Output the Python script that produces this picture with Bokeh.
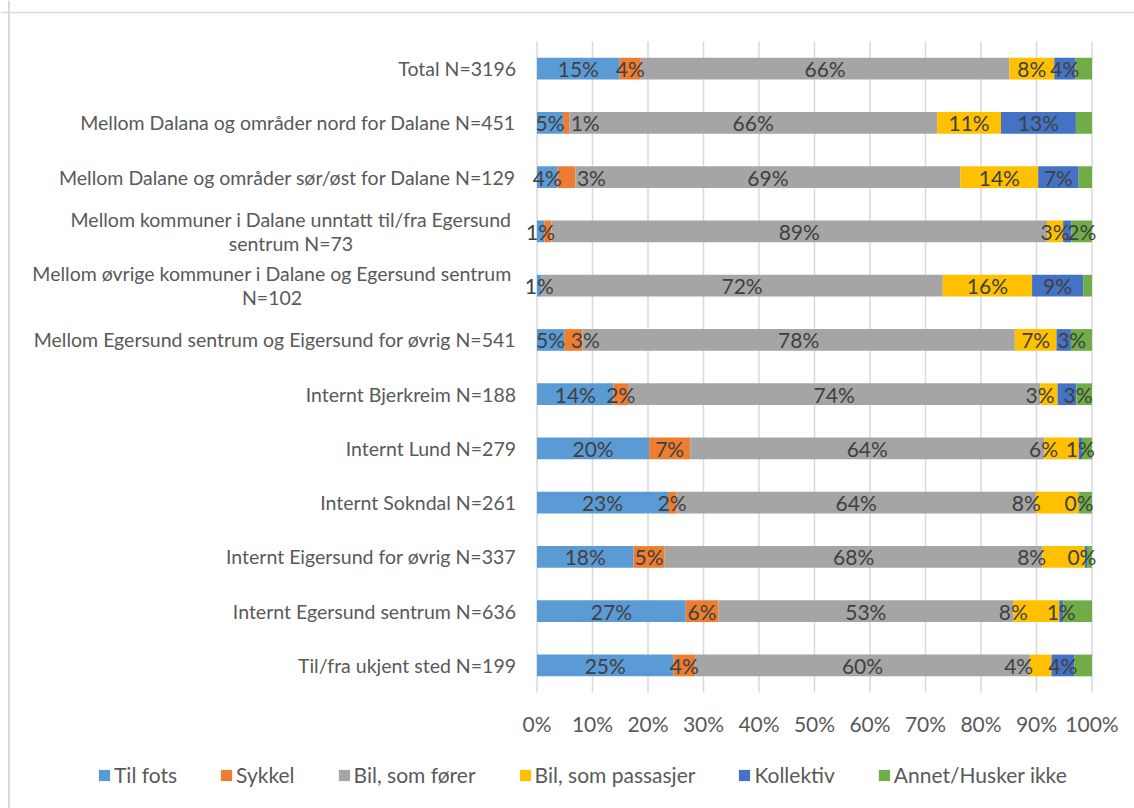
from bokeh.plotting import figure
from bokeh.models import ColumnDataSource, Range1d, Legend, LegendItem, Span
from bokeh.embed import file_html
from bokeh.resources import INLINE
from bokeh.core.properties import value

# ---------------- data (top row first) ----------------
categories = [
    "Total N=3196",
    "Mellom Dalana og områder nord for Dalane N=451",
    "Mellom Dalane og områder sør/øst for Dalane N=129",
    "Mellom kommuner i Dalane unntatt til/fra Egersund\nsentrum N=73",
    "Mellom øvrige kommuner i Dalane og Egersund sentrum\nN=102",
    "Mellom Egersund sentrum og Eigersund for øvrig N=541",
    "Internt Bjerkreim N=188",
    "Internt Lund N=279",
    "Internt Sokndal N=261",
    "Internt Eigersund for øvrig N=337",
    "Internt Egersund sentrum N=636",
    "Til/fra ukjent sted N=199",
]

series_names = ["Til fots", "Sykkel", "Bil, som fører", "Bil, som passasjer",
                "Kollektiv", "Annet/Husker ikke"]

til_fots      = [14.9, 4.7, 3.7, 1.3, 0.8, 4.9, 13.8, 20.2, 23.6, 17.4, 26.8, 24.6]
sykkel        = [3.8, 1.1, 3.2, 1.3, 0.0, 3.3, 2.6, 7.4, 1.5, 5.6, 5.9, 3.9]
bil_forer     = [66.4, 66.3, 69.4, 89.3, 72.3, 77.9, 74.3, 63.8, 64.8, 68.1, 53.1, 60.3]
bil_passasjer = [8.1, 11.5, 14.0, 2.9, 16.1, 7.5, 3.1, 6.2, 7.7, 7.6, 8.3, 3.9]
kollektiv     = [3.8, 13.5, 7.3, 1.5, 9.2, 2.6, 3.4, 0.6, 0.1, 0.4, 0.7, 4.1]
annet         = [3.0, 2.9, 2.4, 3.7, 1.6, 3.8, 2.8, 1.8, 2.3, 0.9, 5.2, 3.2]

lab_til_fots      = ["15%", "5%", "4%", "1%", "1%", "5%", "14%", "20%", "23%", "18%", "27%", "25%"]
lab_sykkel        = ["4%", "1%", "3%", "", "", "3%", "2%", "7%", "2%", "5%", "6%", "4%"]
lab_bil_forer     = ["66%", "66%", "69%", "89%", "72%", "78%", "74%", "64%", "64%", "68%", "53%", "60%"]
lab_bil_passasjer = ["8%", "11%", "14%", "3%", "16%", "7%", "3%", "6%", "8%", "8%", "8%", "4%"]
lab_kollektiv     = ["4%", "13%", "7%", "", "9%", "3%", "3%", "1%", "0%", "0%", "1%", "4%"]
lab_annet         = ["", "", "", "2%", "", "", "", "", "", "", "", ""]

x_ticks = [0, 10, 20, 30, 40, 50, 60, 70, 80, 90, 100]

# ---------------- layout / styles ----------------
W, H = 1134, 808
FRAME_LEFT_PX = 536.5     # canvas px of 0 %
PX_PER_PCT = 5.55         # canvas px per percentage point
TOP_ROW_PX = 68.2         # canvas px of the centre of the first row
ROW_PX = 54.25            # canvas px between rows
colors = ["#5B9BD5", "#ED7D31", "#A5A5A5", "#FFC000", "#4472C4", "#70AD47"]
FONT = "Lato"
label_shift = {   # manual data label shifts (px), as in the original chart
    ("Sykkel", 1): 19, ("Sykkel", 2): 25, ("Sykkel", 5): 12,
    ("Bil, som passasjer", 6): -9, ("Bil, som passasjer", 7): -18,
    ("Bil, som passasjer", 8): -31, ("Bil, som passasjer", 9): -32,
    ("Bil, som passasjer", 10): -23, ("Bil, som passasjer", 11): -22,
    ("Kollektiv", 5): 8, ("Kollektiv", 6): 11, ("Kollektiv", 9): -4,
}
CAT_RIGHT = -21                      # px offset of category label right edge
wrap_center = {3: -246, 4: -265}     # px offset of wrapped label centres
LINE_GAP = 0.22
TICK_LABEL_GAP_PX = 30.5

values = [til_fots, sykkel, bil_forer, bil_passasjer, kollektiv, annet]
labels = [lab_til_fots, lab_sykkel, lab_bil_forer, lab_bil_passasjer, lab_kollektiv, lab_annet]
n = len(categories)
rows_y = [n - 1 - i for i in range(n)]
totals = [sum(v[i] for v in values) for i in range(n)]

x_start = -FRAME_LEFT_PX / PX_PER_PCT
x_end = (W - FRAME_LEFT_PX) / PX_PER_PCT
y_top = (n - 1) + TOP_ROW_PX / ROW_PX
y_bottom = (n - 1) - (H - TOP_ROW_PX) / ROW_PX

p = figure(width=W, height=H,
           x_range=Range1d(x_start, x_end), y_range=Range1d(y_bottom, y_top),
           output_backend="svg", toolbar_location=None,
           min_border=0, min_border_left=0, min_border_right=0,
           min_border_top=0, min_border_bottom=0)
p.outline_line_color = None
p.axis.visible = False
p.grid.visible = False

# chart border (left and top edges visible in the original)
p.add_layout(Span(location=x_start + 8.5 / PX_PER_PCT, dimension="height",
                  line_color="#d9d9d9", line_width=2))
p.add_layout(Span(location=y_top - 12 / ROW_PX, dimension="width",
                  line_color="#d9d9d9", line_width=1.5))

# vertical gridlines
p.segment(x0=x_ticks, x1=x_ticks, y0=[-0.5] * len(x_ticks), y1=[n - 0.5] * len(x_ticks),
          line_color="#d9d9d9", line_width=1.5)

left = [0.0] * n
sources = []
items = []
for k, name in enumerate(series_names):
    v = values[k]
    right = [left[i] + v[i] / totals[i] * 100 for i in range(n)]
    mid = [(left[i] + right[i]) / 2 for i in range(n)]
    src = ColumnDataSource(dict(y=rows_y, left=left, right=right, mid=mid,
                                label=labels[k],
                                xoff=[label_shift.get((name, i), 0) for i in range(n)]))
    r = p.hbar(y="y", left="left", right="right", height=0.4, source=src,
               fill_color=colors[k], line_color=None)
    items.append(LegendItem(label=name, renderers=[r]))
    sources.append(src)
    left = right

for src in sources:
    p.text(x="mid", y="y", text="label", x_offset="xoff", source=src,
           text_align="center", text_baseline="middle",
           text_font=value(FONT), text_font_size="21px", text_color="#404040")

# category labels (wrapped ones centred line by line, as in the original)
single = dict(x=[], y=[], t=[], xo=[])
wrapped = dict(x=[], y=[], t=[], xo=[])
for i, c in enumerate(categories):
    lines = c.split("\n")
    if len(lines) == 1:
        single["x"].append(0); single["y"].append(rows_y[i])
        single["t"].append(c); single["xo"].append(CAT_RIGHT)
    else:
        for j, ln in enumerate(lines):
            wrapped["x"].append(0)
            wrapped["y"].append(rows_y[i] + (LINE_GAP if j == 0 else -LINE_GAP))
            wrapped["t"].append(ln); wrapped["xo"].append(wrap_center[i])
for d, align in ((single, "right"), (wrapped, "center")):
    p.text(x="x", y="y", text="t", x_offset="xo", source=ColumnDataSource(d),
           text_align=align, text_baseline="middle",
           text_font=value(FONT), text_font_size="19.5px", text_color="#595959")

# value axis tick labels
tick_y = -0.5 - TICK_LABEL_GAP_PX / ROW_PX
p.text(x=x_ticks, y=[tick_y] * len(x_ticks), text=["%d%%" % t for t in x_ticks],
       text_align="center", text_baseline="middle",
       text_font=value(FONT), text_font_size="21px", text_color="#595959")

legend = Legend(items=items, orientation="horizontal", location=(97, 21),
                glyph_width=14, glyph_height=14, label_standoff=3, spacing=42,
                label_text_font=FONT, label_text_font_size="21px",
                label_text_color="#595959", border_line_color=None,
                background_fill_alpha=0, padding=6, margin=0)
p.add_layout(legend)

open("out.html", "w").write(file_html(p, INLINE))
